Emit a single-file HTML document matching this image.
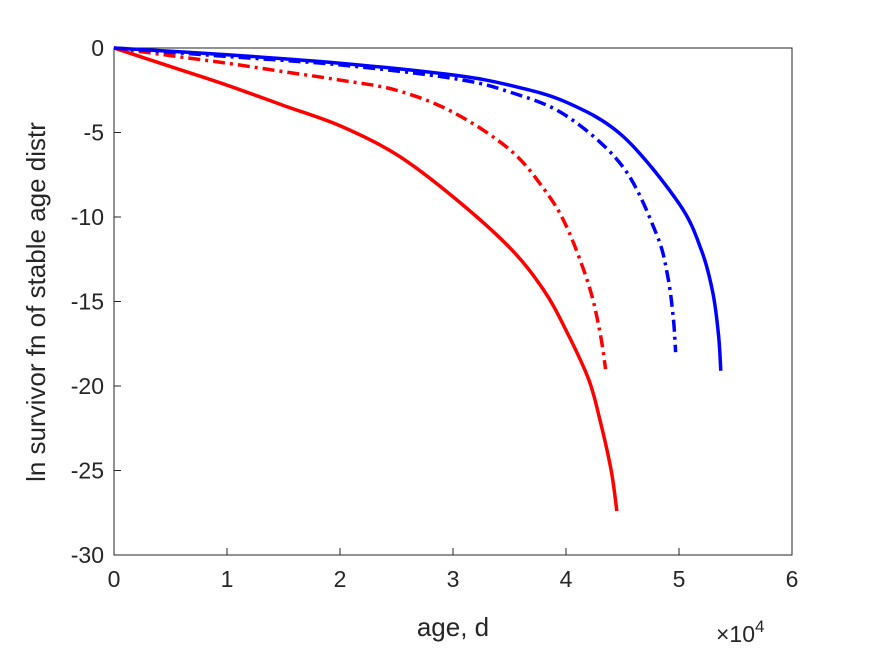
<!DOCTYPE html>
<html><head><meta charset="utf-8"><style>
body{margin:0;background:#fff;}
svg text{font-family:"Liberation Sans",sans-serif;fill:#262626;}
</style></head><body>
<svg width="875" height="656" xmlns="http://www.w3.org/2000/svg">
<rect x="0" y="0" width="875" height="656" fill="#fff"/>
<g id="axes"></g>
<g id="series"></g>
<text x="453" y="636" font-size="26" text-anchor="middle">age, d</text>
<text transform="translate(45,302) rotate(-90)" font-size="26" text-anchor="middle">ln survivor fn of stable age distr</text>
<text x="716" y="642" font-size="23">×10<tspan font-size="17" dy="-10">4</tspan></text>
</svg>
<script>
const xTicks=[0,1,2,3,4,5,6];
const yTicks=[0,-5,-10,-15,-20,-25,-30];
const redSolidX=[0,0.5,1,1.5,2,2.5,3,3.5,3.8,4,4.2,4.3,4.4,4.45];
const redSolidY=[0,-1.1,-2.2,-3.4,-4.6,-6.3,-8.8,-11.8,-14.3,-16.7,-19.6,-22,-25,-27.4];
const redDashX=[0,0.5,1,1.5,2,2.5,3,3.5,3.8,4,4.2,4.3,4.35];
const redDashY=[0,-0.45,-0.9,-1.4,-1.9,-2.5,-3.8,-6,-8.3,-10.5,-14,-16.8,-19];
const blueDashX=[0,1,2,3,3.5,4,4.5,4.8,4.9,4.95,4.97];
const blueDashY=[0,-0.5,-1,-1.8,-2.6,-4,-7,-11,-13.5,-16,-18];
const blueSolidX=[0,1,2,3,3.5,4,4.5,5,5.2,5.3,5.35,5.37];
const blueSolidY=[0,-0.4,-0.9,-1.6,-2.2,-3.2,-5.2,-9.2,-12,-14.5,-17,-19.1];
const X0=114,X1=792,Y0=48,Y1=555;
const xs=v=>X0+(v-0)/6*(X1-X0);
const ys=v=>Y0+(0-v)/30*(Y1-Y0);
const NS="http://www.w3.org/2000/svg";
const ax=document.getElementById('axes');
const fr=document.createElementNS(NS,'rect');
fr.setAttribute('x',X0);fr.setAttribute('y',Y0);fr.setAttribute('width',X1-X0);fr.setAttribute('height',Y1-Y0);
fr.setAttribute('fill','none');fr.setAttribute('stroke','#262626');fr.setAttribute('stroke-width','1');


ax.appendChild(fr);
xTicks.forEach(t=>{
  const l=document.createElementNS(NS,'line');
  l.setAttribute('x1',xs(t));l.setAttribute('x2',xs(t));l.setAttribute('y1',Y1);l.setAttribute('y2',Y1-7);
  l.setAttribute('stroke','#262626');
  
  
  ax.appendChild(l);
  const tx=document.createElementNS(NS,'text');
  tx.setAttribute('x',xs(t));tx.setAttribute('y',Y1+32);tx.setAttribute('font-size','23');tx.setAttribute('text-anchor','middle');
  tx.textContent=t;
  
  
  ax.appendChild(tx);
});
yTicks.forEach(t=>{
  const l=document.createElementNS(NS,'line');
  l.setAttribute('x1',X0);l.setAttribute('x2',X0+7);l.setAttribute('y1',ys(t));l.setAttribute('y2',ys(t));
  l.setAttribute('stroke','#262626');
  
  
  ax.appendChild(l);
  const tx=document.createElementNS(NS,'text');
  tx.setAttribute('x',X0-10);tx.setAttribute('y',ys(t)+8);tx.setAttribute('font-size','23');tx.setAttribute('text-anchor','end');
  tx.textContent=t;
  
  
  ax.appendChild(tx);
});
const sg=document.getElementById('series');
function line(xa,ya,color,dash,name){
  const P=xa.map((x,i)=>[xs(x),ys(ya[i])]);
  let d='M'+P[0][0]+','+P[0][1];
  for(let i=0;i<P.length-1;i++){
    const p0=P[Math.max(i-1,0)],p1=P[i],p2=P[i+1],p3=P[Math.min(i+2,P.length-1)];
    const c1=[p1[0]+(p2[0]-p0[0])/6,p1[1]+(p2[1]-p0[1])/6];
    const c2=[p2[0]-(p3[0]-p1[0])/6,p2[1]-(p3[1]-p1[1])/6];
    d+=' C'+c1[0]+','+c1[1]+' '+c2[0]+','+c2[1]+' '+p2[0]+','+p2[1];
  }
  const p=document.createElementNS(NS,'path');
  p.setAttribute('d',d);
  p.setAttribute('fill','none');p.setAttribute('stroke',color);p.setAttribute('stroke-width','3.5');
  if(dash)p.setAttribute('stroke-dasharray','12,5,3,5');
  
  
  sg.appendChild(p);
}
line(redSolidX,redSolidY,'#ff0000',false,'red-solid-line');
line(redDashX,redDashY,'#ff0000',true,'red-dashdot-line');
line(blueDashX,blueDashY,'#0000ff',true,'blue-dashdot-line');
line(blueSolidX,blueSolidY,'#0000ff',false,'blue-solid-line');
</script>
</body></html>
